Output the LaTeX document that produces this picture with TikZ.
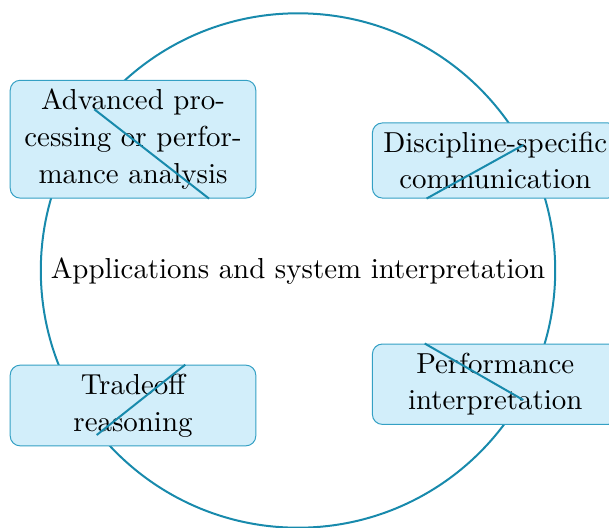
\documentclass[tikz,border=0pt]{standalone}
\usepackage{fontspec}
\setmainfont{lmroman10-regular.otf}
\usepackage{tikz}
\definecolor{ringcol}{RGB}{24,138,172}
\definecolor{boxline}{RGB}{52,160,196}
\definecolor{boxfill}{RGB}{210,238,250}
\tikzset{
  topic/.style={draw=boxline, fill=boxfill, line width=1pt, rounded corners=10pt,
    text width=228pt, align=center, inner xsep=8.8pt, inner ysep=8.8pt,
    font=\fontsize{28.9pt}{36.8pt}\selectfont},
  ring/.style={draw=ringcol, line width=2pt},
  link/.style={draw=ringcol, line width=2pt},
  centre/.style={font=\fontsize{28.9pt}{36.8pt}\selectfont, inner sep=0pt}
}
\begin{document}
\begin{tikzpicture}[x=1pt,y=-1pt]
\useasboundingbox (0,0) rectangle (609,527);
\clip (0,0) rectangle (609,527);
\draw[ring] (298,270.5) circle[radius=257.2pt];
\node[centre] (ctr) at (298,271) {Applications and system interpretation};
\node[topic] (adv) at (133,139.2) {Advanced pro-\\cessing or perfor-\\mance analysis};
\node[topic] (dis) at (495.2,160.5) {Discipline-specific\\communication};
\node[topic] (tra) at (133,405.5) {Tradeoff\\reasoning};
\node[topic] (per) at (495.2,384.2) {Performance\\interpretation};
\coordinate (advend) at (94.3,109.3);
\coordinate (disend) at (523.3,145);
\coordinate (traend) at (96.7,435);
\coordinate (perend) at (523.3,400);
\draw[link] (adv.-38.9) -- (advend);
\draw[link] (dis.209.5) -- (disend);
\draw[link] (tra.38.8) -- (traend);
\draw[link] (per.150) -- (perend);
\end{tikzpicture}
\end{document}
